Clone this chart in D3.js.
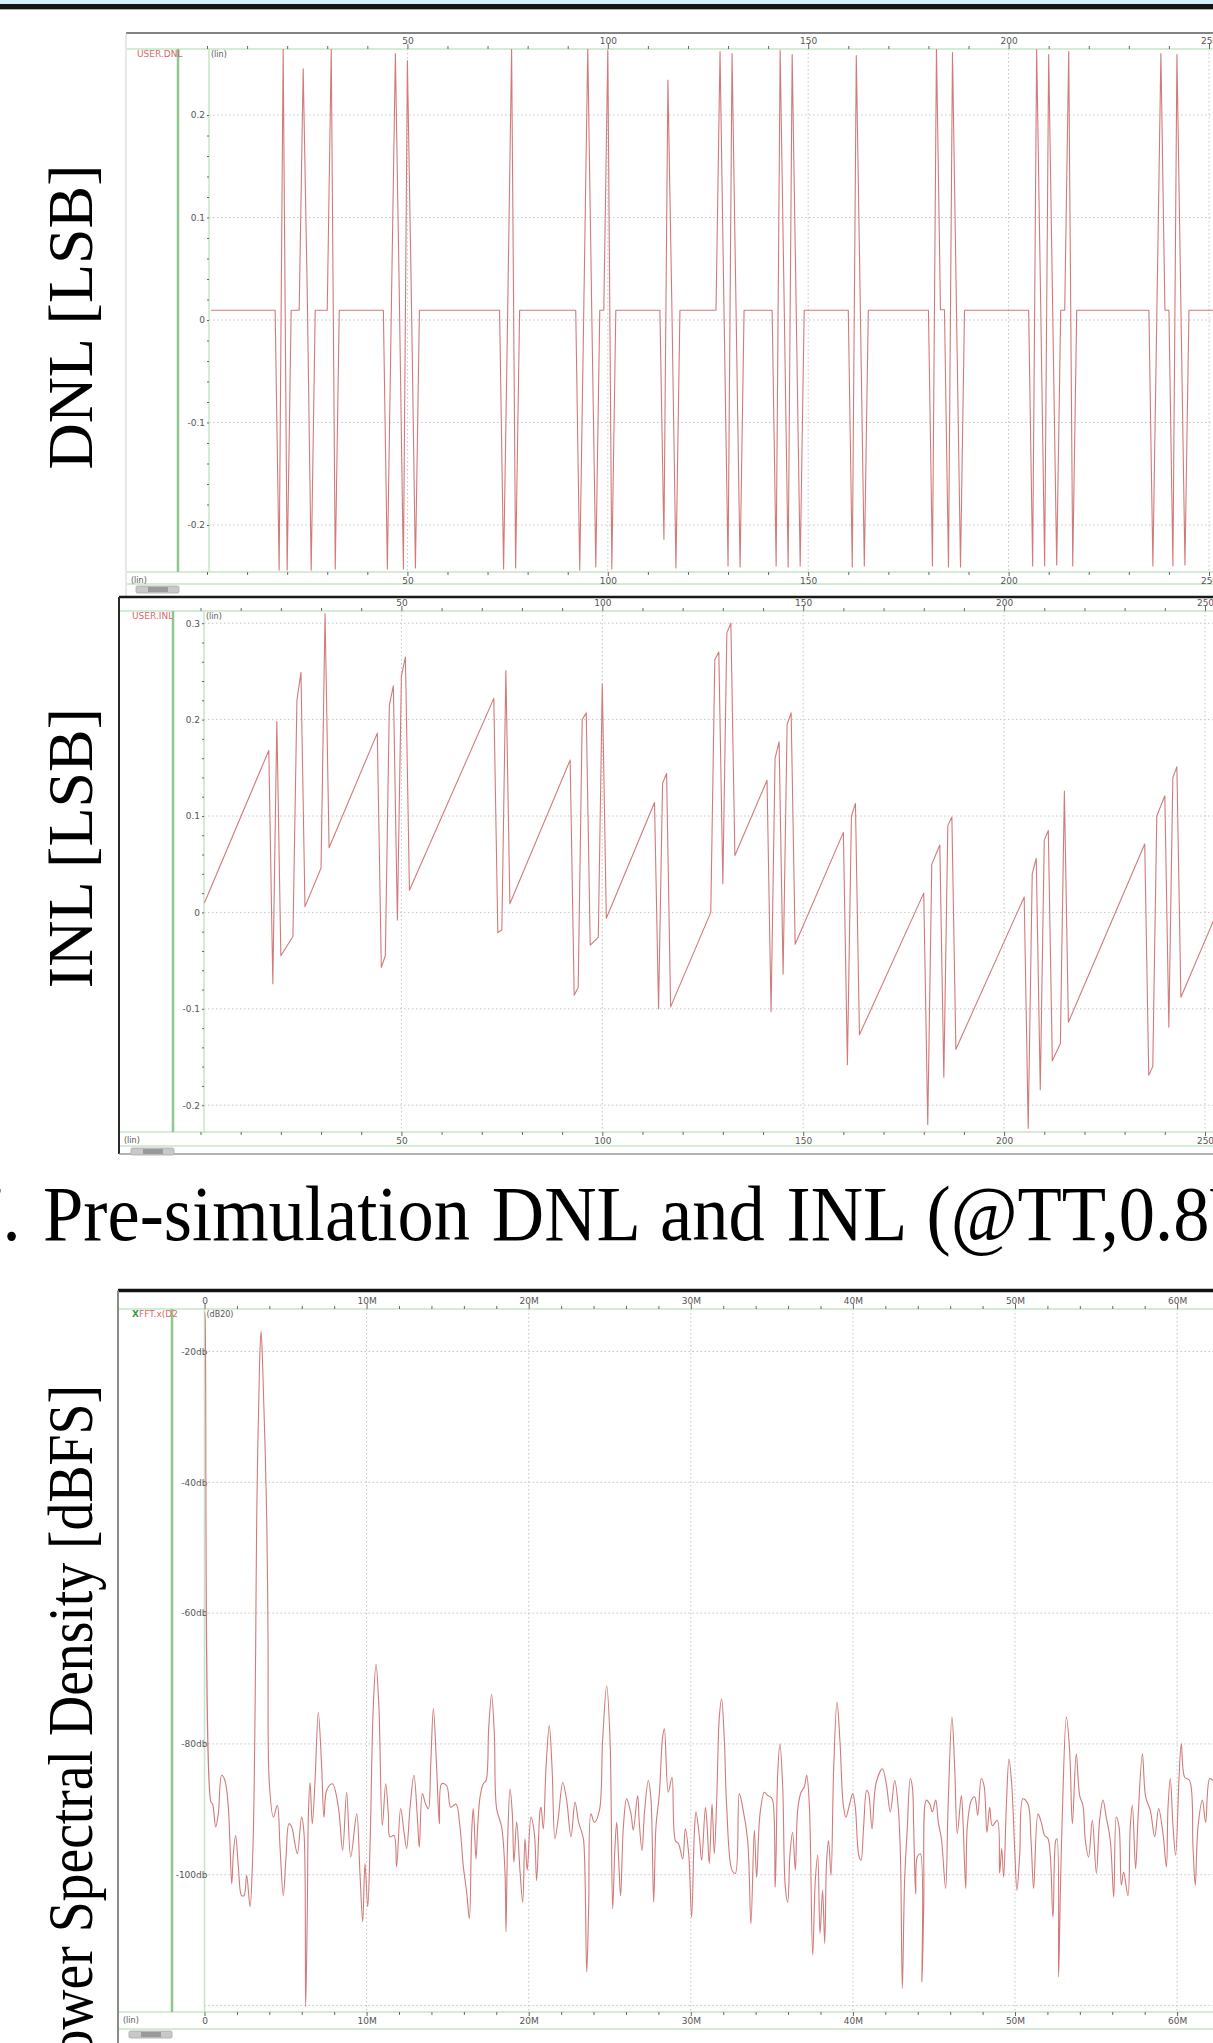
<!DOCTYPE html>
<html>
<head>
<meta charset="utf-8">
<script src="https://d3js.org/d3.v7.min.js"></script>
<style>
body { margin: 0; background: #fff; }
svg { display: block; }
.small { font-family: "DejaVu Sans", sans-serif; font-size: 9px; fill: #555; }
.serif { font-family: "Liberation Serif", "Times New Roman", serif; fill: #000; }
.axis path { display: none; }
.axis line { stroke: #666; }
.axis text { font-family: "DejaVu Sans", sans-serif; font-size: 9px; fill: #555; }
</style>
</head>
<body>
<svg width="1213" height="2043"></svg>
<script>
// DNL per output code, [code, LSB] (flat stretches given by their end codes)
var dnlPts = [
  [1, .0095], [17, .0095], [18, -.244], [19, .265], [20, -.244], [21, .0095], [23, .0095],
  [24, .245], [25, .03], [26, -.244], [27, .0095], [30, .0095], [31, .264], [32, -.243],
  [33, .0095], [44, .0095], [45, -.243], [46, .012], [47, .26], [48, .02], [49, -.243],
  [50, .253], [51, .02], [52, -.242], [53, .0095], [73, .0095], [74, -.243], [75, .003],
  [76, .265], [77, -.242], [78, .0095], [92, .0095], [93, -.244], [94, .008], [95, .265],
  [96, .007], [97, -.241], [98, .0095], [99, .0095], [100, .263], [101, -.243], [102, .0095],
  [113, .0095], [114, -.214], [115, .234], [116, .01], [117, -.242], [118, .0095], [127, .0095],
  [128, .262], [129, .008], [130, -.24], [131, .26], [132, .01], [133, -.241], [134, .0095],
  [141, .0095], [142, -.24], [143, .263], [144, .017], [145, -.241], [146, .259], [147, .012],
  [148, -.24], [149, .0095], [160, .0095], [161, -.241], [162, .258], [163, .013], [164, -.24],
  [165, .0095], [180, .0095], [181, -.24], [182, .265], [183, .01], [184, .01], [185, -.241],
  [186, .261], [187, .009], [188, -.241], [189, .0095], [205, .0095], [206, -.24], [207, .264],
  [208, .016], [209, -.24], [210, .259], [211, .01], [212, -.239], [213, .0095], [214, .0095],
  [215, .262], [216, -.24], [217, .0095], [235, .0095], [236, -.24], [237, .009], [238, .26],
  [239, .0095], [240, .0095], [241, -.24], [242, .259], [243, .011], [244, -.239], [245, .0095],
  [262, .0095]
];

// INL per output code, [code, LSB]
var inlPts = [
  [1, .010], [17, .168], [18, -.074], [19, .198], [20, -.045], [23, -.025], [24, .22], [25, .249],
  [26, .006], [30, .046], [31, .31], [32, .067], [44, .186], [45, -.057], [46, -.045], [47, .215],
  [48, .235], [49, -.008], [50, .245], [51, .265], [52, .023], [73, .222], [74, -.021], [75, -.018],
  [76, .251], [77, .009], [92, .158], [93, -.086], [94, -.078], [95, .2], [96, .207], [97, -.034],
  [99, -.026], [100, .237], [101, -.006], [113, .114], [114, -.1], [115, .134], [116, .144],
  [117, -.098], [127, 0], [128, .262], [129, .27], [130, .03], [131, .29], [132, .3], [133, .059],
  [141, .137], [142, -.103], [143, .16], [144, .177], [145, -.064], [146, .195], [147, .207],
  [148, -.033], [160, .083], [161, -.158], [162, .1], [163, .113], [164, -.127], [180, .02],
  [181, -.22], [182, .05], [184, .07], [185, -.171], [186, .09], [187, .099], [188, -.142],
  [205, .016], [206, -.224], [207, .04], [208, .056], [209, -.184], [210, .075], [211, .085],
  [212, -.154], [214, -.136], [215, .126], [216, -.114], [235, .071], [236, -.169], [237, -.16],
  [238, .1], [240, .121], [241, -.119], [242, .14], [243, .151], [244, -.088], [253, 0], [262, .085]
];

// output spectrum, [MHz, dB]
var psdPts = [
  [0, -14.0], [0.03, -14.5], [0.40, -88.9], [0.50, -89.2], [0.69, -92.7], [0.85, -90.7], [1.06, -84.8],
  [1.26, -85.6], [1.47, -89.7], [1.68, -101.4], [1.78, -96.8], [1.92, -94.0], [2.09, -98.8], [2.29, -103.2],
  [2.44, -103.2], [2.60, -100.1], [2.81, -104.9], [2.97, -97.3], [3.07, -85.6], [3.16, -64.2], [3.22, -45.6],
  [3.40, -21.5], [3.49, -16.9], [3.58, -21.5], [3.84, -45.6], [3.92, -64.2], [3.99, -85.6], [4.25, -91.2],
  [4.49, -89.4], [4.66, -95.8], [4.86, -103.2], [5.03, -97.3], [5.21, -92.2], [5.38, -92.7], [5.58, -95.3],
  [5.73, -96.8], [5.99, -91.2], [6.14, -93.7], [6.24, -120.2], [6.34, -105.9], [6.41, -90.7], [6.51, -85.9],
  [6.65, -92.2], [6.82, -85.6], [7.02, -75.2], [7.23, -83.6], [7.37, -91.2], [7.54, -87.1], [7.89, -86.1],
  [8.26, -89.7], [8.52, -96.3], [8.77, -87.4], [9.02, -97.3], [9.39, -90.7], [9.59, -99.8], [9.76, -107.2],
  [9.90, -98.3], [10.07, -104.9], [10.21, -95.8], [10.41, -74.4], [10.58, -67.8], [10.76, -74.4],
  [10.97, -92.5], [11.18, -86.1], [11.34, -90.7], [11.44, -94.2], [11.69, -94.0], [11.85, -98.8],
  [12.10, -89.9], [12.31, -93.5], [12.47, -96.0], [12.68, -89.7], [12.92, -84.8], [13.13, -91.2],
  [13.25, -95.8], [13.44, -87.6], [13.64, -89.2], [13.81, -89.9], [13.95, -83.6], [14.12, -74.6],
  [14.32, -83.6], [14.49, -92.2], [14.63, -86.1], [14.94, -86.4], [15.19, -89.7], [15.51, -89.2],
  [15.76, -92.7], [15.97, -98.8], [16.17, -102.6], [16.34, -106.7], [16.48, -93.7], [16.58, -89.9],
  [16.75, -97.6], [16.85, -92.7], [17.00, -88.1], [17.20, -86.1], [17.37, -85.6], [17.53, -77.7],
  [17.71, -72.4], [17.88, -78.5], [18.02, -89.9], [18.33, -92.7], [18.54, -99.8], [18.60, -108.7],
  [18.70, -94.8], [18.85, -86.9], [18.99, -90.7], [19.09, -98.1], [19.26, -91.9], [19.46, -99.3],
  [19.63, -104.2], [19.77, -94.5], [19.91, -99.3], [20.14, -91.2], [20.35, -93.7], [20.49, -100.9],
  [20.70, -90.2], [20.76, -89.7], [20.90, -93.0], [21.07, -83.6], [21.27, -77.2], [21.44, -83.6],
  [21.62, -94.5], [21.83, -91.2], [22.10, -85.9], [22.34, -88.6], [22.61, -94.2], [22.86, -88.9],
  [23.08, -92.0], [23.27, -93.5], [23.39, -94.8], [23.58, -114.9], [23.70, -104.9], [23.84, -90.7],
  [24.05, -92.0], [24.36, -90.2], [24.56, -79.5], [24.81, -71.1], [25.02, -79.5], [25.18, -105.2],
  [25.32, -95.8], [25.43, -92.0], [25.55, -97.8], [25.67, -103.2], [25.84, -92.7], [26.04, -88.4],
  [26.31, -90.7], [26.45, -93.2], [26.72, -87.9], [26.82, -92.0], [26.99, -96.3], [27.15, -90.2],
  [27.38, -85.6], [27.54, -88.4], [27.71, -104.2], [27.85, -92.7], [28.06, -87.6], [28.26, -79.0],
  [28.37, -77.7], [28.61, -87.4], [28.84, -85.1], [29.05, -94.8], [29.25, -95.3], [29.50, -97.6],
  [29.66, -93.0], [29.87, -96.8], [30.05, -106.5], [30.22, -93.5], [30.32, -90.4], [30.53, -94.2],
  [30.67, -97.8], [30.90, -89.7], [31.00, -92.2], [31.14, -98.3], [31.31, -89.2], [31.45, -96.8],
  [31.60, -88.4], [31.76, -75.9], [31.90, -73.1], [32.07, -79.5], [32.21, -89.4], [32.54, -99.3],
  [32.75, -99.8], [32.99, -87.6], [33.20, -89.7], [33.51, -94.8], [33.71, -107.5], [33.92, -93.2],
  [34.06, -100.4], [34.27, -90.7], [34.54, -87.4], [34.74, -87.9], [34.91, -88.1], [35.05, -88.6],
  [35.21, -101.9], [35.36, -84.6], [35.50, -80.0], [35.67, -86.6], [35.83, -101.9], [35.98, -104.2],
  [36.12, -96.8], [36.28, -93.5], [36.45, -99.3], [36.59, -90.2], [36.80, -87.4], [37.00, -86.6],
  [37.15, -84.8], [37.31, -89.2], [37.52, -112.3], [37.68, -100.9], [37.83, -97.0], [37.97, -109.0],
  [38.13, -102.4], [38.26, -110.5], [38.38, -97.8], [38.50, -94.8], [38.65, -100.1], [38.81, -84.1],
  [39.02, -73.6], [39.20, -79.5], [39.41, -89.4], [39.57, -91.2], [39.78, -89.4], [39.99, -87.6],
  [40.15, -89.7], [40.36, -97.0], [40.50, -97.8], [40.66, -92.7], [40.85, -87.1], [40.97, -87.6],
  [41.18, -93.0], [41.42, -86.1], [41.82, -83.8], [42.06, -86.1], [42.31, -90.4], [42.58, -85.6],
  [42.78, -89.2], [42.93, -96.8], [43.05, -117.4], [43.19, -100.9], [43.36, -92.7], [43.54, -85.3],
  [43.67, -86.6], [43.75, -92.7], [43.87, -102.9], [43.97, -97.3], [44.16, -96.8], [44.26, -116.4],
  [44.37, -104.9], [44.53, -88.6], [44.74, -89.2], [44.90, -90.4], [45.11, -88.6], [45.27, -92.0],
  [45.46, -94.5], [45.72, -102.1], [45.87, -89.7], [46.11, -75.9], [46.28, -83.6], [46.44, -93.7],
  [46.69, -87.9], [46.79, -91.7], [46.96, -102.1], [47.06, -92.5], [47.31, -88.6], [47.51, -88.1],
  [47.70, -90.9], [47.92, -85.3], [48.09, -86.4], [48.27, -93.5], [48.44, -89.7], [48.60, -92.5],
  [48.91, -91.7], [49.05, -99.8], [49.18, -96.0], [49.30, -100.4], [49.47, -89.2], [49.63, -82.3],
  [49.79, -85.9], [49.98, -96.0], [50.12, -102.4], [50.29, -97.0], [50.49, -88.4], [50.80, -89.2],
  [50.99, -94.8], [51.15, -102.1], [51.42, -90.7], [51.62, -92.0], [51.83, -94.0], [52.04, -94.5],
  [52.34, -106.5], [52.51, -94.8], [52.59, -94.5], [52.69, -115.6], [52.80, -102.4], [52.92, -90.7],
  [53.17, -75.9], [53.37, -81.0], [53.54, -92.2], [53.78, -81.5], [53.99, -87.9], [54.19, -89.4],
  [54.34, -94.8], [54.54, -97.3], [54.77, -91.7], [55.02, -99.8], [55.22, -91.7], [55.43, -88.6],
  [55.63, -91.2], [55.88, -94.8], [56.09, -103.4], [56.25, -91.2], [56.42, -92.7], [56.56, -101.6],
  [56.70, -99.6], [56.97, -103.2], [57.11, -92.7], [57.24, -89.4], [57.44, -99.1], [57.59, -91.4],
  [57.86, -81.5], [58.06, -88.1], [58.35, -90.2], [58.62, -94.2], [58.86, -89.9], [59.13, -93.7],
  [59.34, -98.8], [59.44, -89.7], [59.58, -85.3], [59.75, -92.7], [59.91, -97.0], [60.12, -85.1],
  [60.26, -80.0], [60.47, -85.1], [60.77, -85.6], [60.98, -95.8], [61.12, -101.6], [61.29, -92.7],
  [61.56, -88.6], [61.76, -92.0], [62.01, -85.3], [62.21, -85.6]
];

var codeTicks = [50, 100, 150, 200, 250];
var freqTicks = [0, 10, 20, 30, 40, 50, 60];
var dnlTicks = [-0.2, -0.1, 0, 0.1, 0.2];
var inlTicks = [-0.2, -0.1, 0, 0.1, 0.2, 0.3];
var psdTicks = [-100, -80, -60, -40, -20];
var psdGrid = [-120, -100, -80, -60, -40, -20];

var svg = d3.select("svg"),
    W = +svg.attr("width");

var traceColor = "#d27a7a",
    greenDark = "#8ec88e",
    greenLight = "#c6e4c6";

// window strip at the very top
svg.append("rect").attr("x", 0).attr("y", 0).attr("width", W).attr("height", 4).attr("fill", "#d6eef9");
svg.append("rect").attr("x", 0).attr("y", 4).attr("width", W).attr("height", 5).attr("fill", "#141414");
svg.append("rect").attr("x", 0).attr("y", 9).attr("width", W).attr("height", 1).attr("fill", "#aaa");

function drawPanel(c) {
  var g = svg.append("g");
  var id = "clip-" + c.name;

  svg.append("defs").append("clipPath").attr("id", id)
    .append("rect")
      .attr("x", c.axisX).attr("y", c.top)
      .attr("width", W - c.axisX).attr("height", c.bottom - c.top);

  // frame
  g.append("line")
      .attr("x1", c.frameLeft).attr("x2", W).attr("y1", c.frameTop).attr("y2", c.frameTop)
      .attr("stroke", c.frameColor).attr("stroke-width", c.frameWidth);
  g.append("line")
      .attr("x1", c.frameLeft).attr("x2", c.frameLeft).attr("y1", c.frameTop).attr("y2", c.frameBottom)
      .attr("stroke", c.leftColor).attr("stroke-width", c.leftWidth);
  if (c.bottomLine) {
    g.append("line")
        .attr("x1", c.frameLeft).attr("x2", W).attr("y1", c.frameBottom).attr("y2", c.frameBottom)
        .attr("stroke", "#999").attr("stroke-width", 1.5);
  }

  // dotted grid
  g.append("g").selectAll("line")
    .data(c.yGrid)
    .enter().append("line")
      .attr("x1", c.axisX).attr("x2", W)
      .attr("y1", function(d) { return c.y(d); })
      .attr("y2", function(d) { return c.y(d); })
      .attr("stroke", "#c4c4c4").attr("stroke-dasharray", "1.5,2.5");
  g.append("g").selectAll("line")
    .data(c.xMajor.filter(function(d) { return c.x(d) > c.axisX + 2; }))
    .enter().append("line")
      .attr("x1", function(d) { return c.x(d); })
      .attr("x2", function(d) { return c.x(d); })
      .attr("y1", c.top).attr("y2", c.bottom)
      .attr("stroke", "#c4c4c4").attr("stroke-dasharray", "1.5,2.5");

  // axis rails
  [c.top, c.bottom, c.bottom2].forEach(function(yy) {
    g.append("line").attr("x1", c.frameLeft + 1).attr("x2", W).attr("y1", yy).attr("y2", yy)
      .attr("stroke", greenLight).attr("stroke-width", 1.5);
  });
  g.append("line").attr("x1", c.axisX).attr("x2", c.axisX).attr("y1", c.top).attr("y2", c.bottom)
    .attr("stroke", greenLight).attr("stroke-width", 1.5);
  g.append("line").attr("x1", c.greenX).attr("x2", c.greenX).attr("y1", c.top).attr("y2", c.bottom)
    .attr("stroke", greenDark).attr("stroke-width", 2.5);

  var minor = c.x.ticks(c.minorCount).filter(function(d) { return c.xMajor.indexOf(d) < 0; });

  // top axis
  g.append("g").attr("class", "axis").attr("transform", "translate(0," + c.top + ")")
    .call(d3.axisTop(c.x).tickValues(c.xMajor).tickSize(5).tickPadding(0).tickFormat(c.xFormat));
  g.append("g").attr("class", "axis").attr("transform", "translate(0," + c.top + ")")
    .call(d3.axisTop(c.x).tickValues(minor).tickSize(3).tickFormat(""));

  // bottom axis
  g.append("g").attr("class", "axis").attr("transform", "translate(0," + c.bottom + ")")
    .call(d3.axisBottom(c.x).tickValues(c.xMajor).tickSize(4).tickPadding(2).tickFormat(c.xFormat));
  g.append("g").attr("class", "axis").attr("transform", "translate(0," + c.bottom + ")")
    .call(d3.axisBottom(c.x).tickValues(minor).tickSize(3).tickFormat(""));

  // y axis labels + small ticks
  g.append("g").attr("class", "axis").attr("transform", "translate(" + c.axisX + ",0)")
    .call(d3.axisLeft(c.y).tickValues(c.yLabels).tickSize(0).tickPadding(c.yPad).tickFormat(c.yFormat));
  if (c.yMinor) {
    g.append("g").attr("class", "axis").attr("transform", "translate(" + c.axisX + ",0)")
      .call(d3.axisLeft(c.y).ticks(c.yMinor).tickSize(2).tickFormat(""))
      .selectAll("line").attr("stroke", "#9c9c9c");
  }

  // trace names / units
  var nm = g.append("text").attr("class", "small").attr("x", c.nameX).attr("y", c.top + 8);
  c.nameParts.forEach(function(p) {
    nm.append("tspan").attr("fill", p[1]).style("font-weight", p[2] || null).text(p[0]);
  });
  g.append("text").attr("class", "small").attr("x", c.axisX + 2).attr("y", c.top + 8)
    .style("font-size", "8px").text(c.unit);
  g.append("text").attr("class", "small").attr("x", c.frameLeft + 5).attr("y", c.bottom + 11)
    .style("font-size", "8px").text("(lin)");

  // scroll bar stub
  g.append("rect").attr("x", c.scrollX).attr("y", c.bottom2 + 2).attr("width", 43).attr("height", 7)
    .attr("rx", 1.5).attr("fill", "#c8c8c8").attr("stroke", "#a8a8a8").attr("stroke-width", 0.8);
  g.append("rect").attr("x", c.scrollX + 12).attr("y", c.bottom2 + 3).attr("width", 20).attr("height", 5)
    .attr("fill", "#9a9a9a");

  // waveform
  var line = d3.line()
      .curve(c.curve || d3.curveLinear)
      .x(function(d) { return c.x(d[0]); })
      .y(function(d) { return c.y(d[1]); });
  g.append("path")
      .datum(c.data)
      .attr("clip-path", "url(#" + id + ")")
      .attr("fill", "none")
      .attr("stroke", traceColor)
      .attr("stroke-width", 1.1)
      .attr("stroke-linejoin", "round")
      .attr("d", line);
}

var lsbFmt = function(d) { return d === 0 ? "0" : String(d); };

drawPanel({
  name: "dnl", data: dnlPts,
  frameTop: 33, frameBottom: 596, frameLeft: 126, frameColor: "#5a5a5a", frameWidth: 1.5,
  leftColor: "#cfcfcf", leftWidth: 1,
  top: 49, bottom: 572, bottom2: 584, greenX: 178, axisX: 209, scrollX: 136,
  x: d3.scaleLinear().domain([0, 250]).range([207, 1209]),
  y: d3.scaleLinear().domain([-0.2, 0.2]).range([525, 115]),
  xMajor: codeTicks, minorCount: 25, xFormat: d3.format("d"),
  yGrid: dnlTicks, yLabels: dnlTicks, yFormat: lsbFmt, yPad: 4, yMinor: 25,
  nameX: 137, nameParts: [["USER.DNL", "#d46a6a"]], unit: "(lin)"
});

drawPanel({
  name: "inl", data: inlPts,
  frameTop: 597, frameBottom: 1154, frameLeft: 119, frameColor: "#1a1a1a", frameWidth: 2.5,
  leftColor: "#2a2a2a", leftWidth: 2, bottomLine: true,
  top: 611, bottom: 1132, bottom2: 1146, greenX: 173, axisX: 204, scrollX: 131,
  x: d3.scaleLinear().domain([0, 250]).range([200.5, 1205]),
  y: d3.scaleLinear().domain([-0.2, 0.3]).range([1105.2, 623.2]),
  xMajor: codeTicks, minorCount: 25, xFormat: d3.format("d"),
  yGrid: inlTicks, yLabels: inlTicks, yFormat: lsbFmt, yPad: 4, yMinor: 25,
  nameX: 132, nameParts: [["USER.INL", "#d46a6a"]], unit: "(lin)"
});

drawPanel({
  name: "psd", data: psdPts, curve: d3.curveCatmullRom.alpha(0.5),
  frameTop: 1290.5, frameBottom: 2043, frameLeft: 118, frameColor: "#111", frameWidth: 3.5,
  leftColor: "#8a8a8a", leftWidth: 2,
  top: 1309, bottom: 2012, bottom2: 2029, greenX: 172, axisX: 204.5, scrollX: 129,
  x: d3.scaleLinear().domain([0, 60]).range([204.5, 1177.1]),
  y: d3.scaleLinear().domain([-120, -20]).range([2005.5, 1351.5]),
  xMajor: freqTicks, minorCount: 30,
  xFormat: function(d) { return d === 0 ? "0" : d + "M"; },
  yGrid: psdGrid, yLabels: psdTicks, yFormat: function(d) { return d + "db"; }, yPad: -3, yMinor: 0,
  nameX: 132, nameParts: [["X", "#3c9a3c", "bold"], ["FFT.x(D2", "#d46a6a"]], unit: "(dB20)"
});

// figure texts
svg.append("text").attr("class", "serif")
    .attr("transform", "translate(92,317) rotate(-90)")
    .attr("text-anchor", "middle").style("font-size", "64px")
    .text("DNL [LSB]");
svg.append("text").attr("class", "serif")
    .attr("transform", "translate(92,848) rotate(-90)")
    .attr("text-anchor", "middle").style("font-size", "64px")
    .text("INL [LSB]");
svg.append("text").attr("class", "serif")
    .attr("transform", "translate(92,1385) rotate(-90) scale(0.87,1)")
    .attr("text-anchor", "end").style("font-size", "64px")
    .text("Power Spectral Density [dBFS]");

// caption: tall, slightly narrow serif, a little extra room between words
var capG = svg.append("g").attr("transform", "translate(43,1240) scale(0.93,1)");
capG.append("text").attr("class", "serif")
    .attr("x", -24).attr("y", 0).attr("text-anchor", "end")
    .style("font-size", "78px")
    .text("Fig. 7.");
capG.append("text").attr("class", "serif")
    .attr("x", 0).attr("y", 0)
    .style("font-size", "78px").style("word-spacing", "4px")
    .text("Pre-simulation DNL and INL (@TT,0.8V)");
</script>
</body>
</html>
